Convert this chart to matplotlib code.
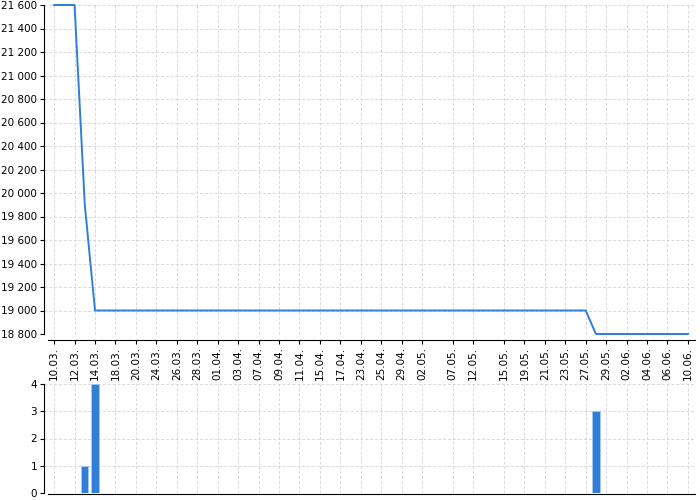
import matplotlib
matplotlib.use("Agg")
import matplotlib.pyplot as plt
import numpy as np

# every day that has a record (category axis)
dates = ["10.03", "11.03", "12.03", "13.03", "14.03", "16.03", "18.03", "19.03",
         "20.03", "22.03", "24.03", "25.03", "26.03", "27.03", "28.03", "31.03",
         "01.04", "02.04", "03.04", "04.04", "07.04", "08.04", "09.04", "10.04",
         "11.04", "14.04", "15.04", "16.04", "17.04", "22.04", "23.04", "24.04",
         "25.04", "28.04", "29.04", "30.04", "02.05", "05.05", "06.05", "07.05",
         "08.05", "12.05", "13.05", "14.05", "15.05", "16.05", "19.05", "20.05",
         "21.05", "22.05", "23.05", "26.05", "27.05", "28.05", "29.05", "30.05",
         "02.06", "03.06", "04.06", "05.06", "06.06", "09.06", "10.06"]

# labels that are actually shown on the axis
shown = ["10.03", "12.03", "14.03", "18.03", "20.03", "24.03", "26.03", "28.03",
         "01.04", "03.04", "07.04", "09.04", "11.04", "15.04", "17.04", "23.04",
         "25.04", "29.04", "02.05", "07.05", "12.05", "15.05", "19.05", "21.05",
         "23.05", "27.05", "29.05", "02.06", "04.06", "06.06", "10.06"]

price = ([21600, 21600, 21600, 19900] + [19000] * 49 + [18800] * 10)
count = [0, 0, 0, 1, 4] + [0] * 48 + [3] + [0] * 9

blue = "#2f7ed8"
plt.rcParams["font.family"] = "DejaVu Sans"
plt.rcParams["font.size"] = 7.5

x = np.arange(len(dates))
tick_pos = [dates.index(d) for d in shown]
xlim = (-0.98, 62.7)

fig = plt.figure(figsize=(7, 5), dpi=100)
ax = fig.add_axes([0.063, 0.332, 0.93, 0.658])
ax2 = fig.add_axes([0.063, 0.014, 0.93, 0.218])

# price line
ax.plot(x, price, color=blue, linewidth=1.4, clip_on=False, zorder=3)
ax.set_xlim(*xlim)
ax.set_ylim(18800, 21600)
ax.set_yticks(np.arange(18800, 21601, 200))
ax.set_yticklabels([f"{v:,}".replace(",", " ") for v in range(18800, 21601, 200)])
ax.set_xticks(tick_pos)
ax.set_xticklabels([d + "." for d in shown], fontsize=6.6)

# counts
ax2.bar(x, count, width=0.7, color=blue, edgecolor="#a9c9ee", linewidth=0.6)
ax2.set_xlim(*xlim)
ax2.set_ylim(0, 4)
ax2.set_yticks(range(5))
ax2.set_xticks(tick_pos)
ax2.set_xticklabels([])

for a in (ax, ax2):
    a.grid(True, color="#d8d8d8", linestyle=(0, (3, 2)), linewidth=0.7)
    a.set_axisbelow(True)
    a.spines["top"].set_visible(False)
    a.spines["right"].set_visible(False)
    a.spines["bottom"].set_bounds(-0.6, xlim[1])
    a.tick_params(axis="y", length=3, pad=2)
ax.tick_params(axis="x", length=3, pad=2, labelrotation=90)
ax2.tick_params(axis="x", length=0)
ax.spines["bottom"].set_position(("outward", 4))
ax2.spines["bottom"].set_position(("outward", 1))

plt.savefig("out.png", dpi=100)
